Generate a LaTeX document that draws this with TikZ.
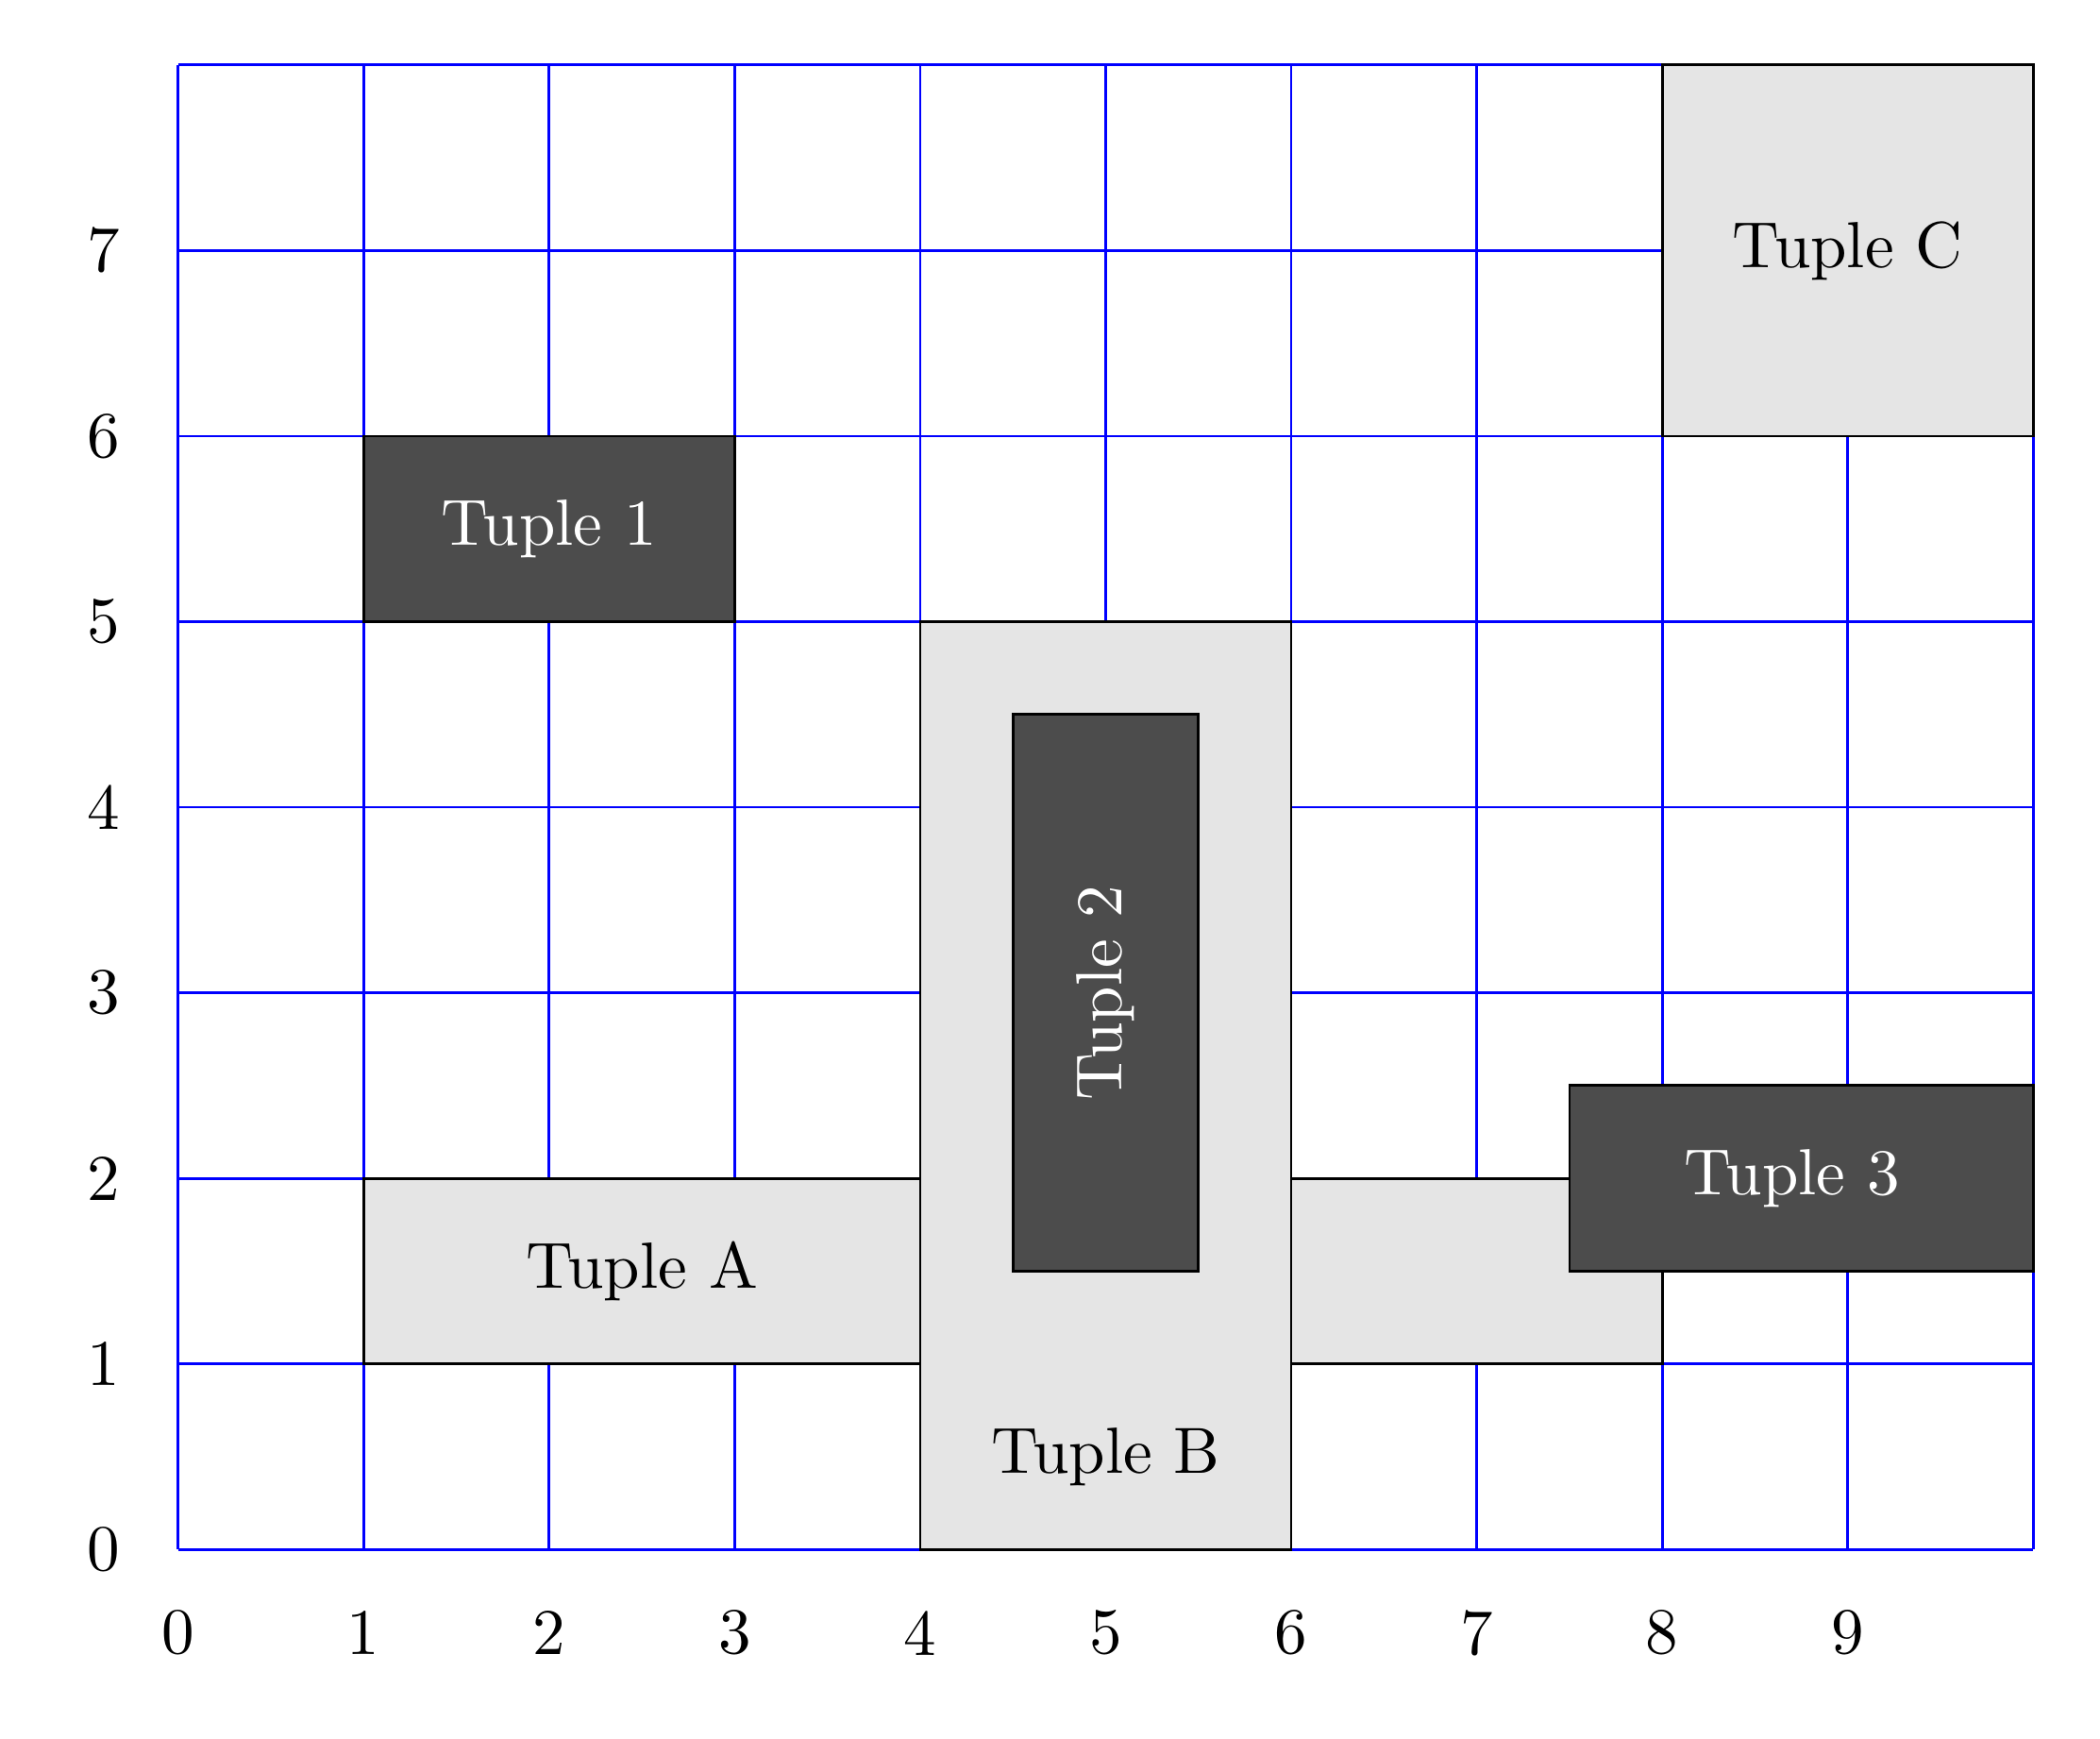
\documentclass[tikz,border=0pt]{standalone}
\usepackage{tikz}

\begin{document}
\begin{tikzpicture}[
    lightbox/.style={draw=black, fill=gray!20},
    darkbox/.style={draw=black, fill=black!70},
    lighttext/.style={text=black},
    darktext/.style={text=white}
]
\useasboundingbox (-0.96,-1.02) rectangle (10.36,8.35);
% grid and axis numbers
\draw[blue] (0,0) grid (10,8);
\foreach \x in {0,...,9}
    \node (xlabel\x) at (\x,-0.45) {\x};
\foreach \y in {0,...,7}
    \node (ylabel\y) at (-0.4,\y) {\y};
% light tuples
\draw[lightbox] (1,1) rectangle (8,2);
\draw[lightbox] (4,0) rectangle (6,5);
\draw[lightbox] (8,6) rectangle (10,8);
\node[lighttext] (tupleA) at (2.5,1.5) {Tuple A};
\node[lighttext] (tupleB) at (5,0.5) {Tuple B};
\node[lighttext] (tupleC) at (9,7) {Tuple C};
% dark tuples
\draw[darkbox] (1,5) rectangle (3,6);
\draw[darkbox] (4.5,1.5) rectangle (5.5,4.5);
\draw[darkbox] (7.5,1.5) rectangle (10,2.5);
\node[darktext] (tuple1) at (2,5.5) {Tuple 1};
\node[darktext, rotate=90] (tuple2) at (5,3) {Tuple 2};
\node[darktext] (tuple3) at (8.7,2) {Tuple 3};
\end{tikzpicture}
\end{document}
